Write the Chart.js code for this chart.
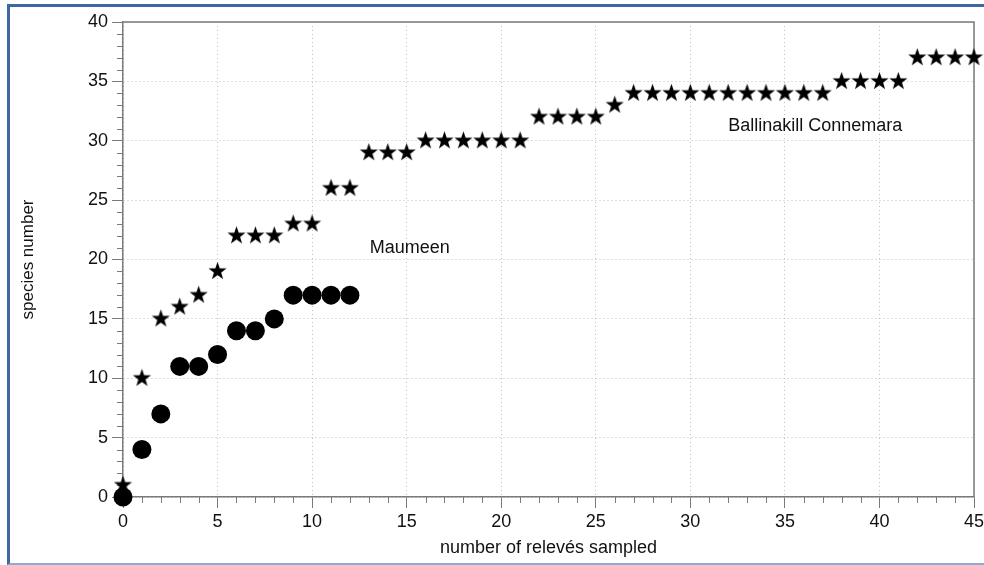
<!DOCTYPE html>
<html>
<head>
<meta charset="utf-8">
<title>Species accumulation</title>
<script src="https://cdn.jsdelivr.net/npm/chart.js@4.4.1/dist/chart.umd.min.js"></script>
<style>
html, body { margin: 0; padding: 0; background: #fff; }
#wrap { position: relative; width: 984px; height: 565px; overflow: hidden; }
#frame {
	position: absolute; left: 7px; top: 4px; right: -10px; bottom: 0;
	border-left: 3px solid #3f68a3;
	border-top: 3px solid #3f68a3;
	border-bottom: 2px solid #8eaad2;
}
#chart { position: absolute; left: 0; top: 0; }
</style>
</head>
<body>
<div id="wrap">
	<div id="frame"></div>
	<canvas id="chart" width="984" height="565"></canvas>
</div>
<script>
// number of relevés sampled (x) and cumulative species found (y)
var releves = [];
for (var i = 0; i <= 45; i++) releves.push(i);

var ballinakill = [1, 10, 15, 16, 17, 19, 22, 22, 22, 23, 23, 26, 26, 29, 29, 29,
	30, 30, 30, 30, 30, 30, 32, 32, 32, 32, 33, 34, 34, 34, 34, 34, 34, 34, 34, 34,
	34, 34, 35, 35, 35, 35, 37, 37, 37, 37];
var maumeen = [0, 4, 7, 11, 11, 12, 14, 14, 15, 17, 17, 17, 17];

var xTicks = [0, 5, 10, 15, 20, 25, 30, 35, 40, 45];
var yTicks = [0, 5, 10, 15, 20, 25, 30, 35, 40];

var siteLabels = [
	{ text: 'Maumeen', x: 13.05, y: 21 },
	{ text: 'Ballinakill Connemara', x: 32, y: 31.2 }
];

Chart.defaults.font.family = "'Liberation Sans', Arial, Helvetica, sans-serif";
Chart.defaults.color = '#111';

// filled five-pointed star used as the marker
function makeStar(R) {
	var c = document.createElement('canvas');
	var s = Math.ceil(R * 2 + 2);
	c.width = s; c.height = s;
	var g = c.getContext('2d');
	var r = R * 0.4;
	g.beginPath();
	for (var k = 0; k < 10; k++) {
		var rad = k % 2 ? r : R;
		var ang = -Math.PI / 2 + k * Math.PI / 5;
		var px = s / 2 + rad * Math.cos(ang);
		var py = s / 2 + rad * Math.sin(ang);
		if (k === 0) g.moveTo(px, py); else g.lineTo(px, py);
	}
	g.closePath();
	g.fillStyle = '#000';
	g.fill();
	return c;
}
var star = makeStar(9.5);

function points(ys) {
	var out = [];
	for (var i = 0; i < ys.length; i++) out.push({ x: releves[i], y: ys[i] });
	return out;
}

var axisColor = '#7a7a7a';

// minor ticks every unit plus the closing frame on top and right
var framePlugin = {
	id: 'frame',
	beforeDatasetsDraw: function(chart) {
		var ctx = chart.ctx, xs = chart.scales.x, ys = chart.scales.y, a = chart.chartArea;
		ctx.save();
		ctx.strokeStyle = axisColor;
		ctx.lineWidth = 1;
		ctx.beginPath();
		for (var v = 0; v <= 45; v++) {
			if (v % 5 === 0) continue;
			var px = Math.round(xs.getPixelForValue(v)) + 0.5;
			ctx.moveTo(px, a.bottom);
			ctx.lineTo(px, a.bottom + 6);
		}
		for (var w = 0; w <= 40; w++) {
			if (w % 5 === 0) continue;
			var py = Math.round(ys.getPixelForValue(w)) + 0.5;
			ctx.moveTo(a.left, py);
			ctx.lineTo(a.left - 6, py);
		}
		ctx.stroke();
		ctx.lineWidth = 1.5;
		ctx.beginPath();
		ctx.moveTo(a.left, a.top);
		ctx.lineTo(a.right, a.top);
		ctx.lineTo(a.right, a.bottom);
		ctx.stroke();
		ctx.restore();
	},
	afterDatasetsDraw: function(chart) {
		var ctx = chart.ctx, xs = chart.scales.x, ys = chart.scales.y;
		ctx.save();
		ctx.font = "18px 'Liberation Sans', Arial, sans-serif";
		ctx.fillStyle = '#111';
		ctx.textAlign = 'left';
		ctx.textBaseline = 'middle';
		siteLabels.forEach(function(l) {
			ctx.fillText(l.text, xs.getPixelForValue(l.x), ys.getPixelForValue(l.y));
		});
		ctx.restore();
	}
};

var ctx = document.getElementById('chart');

var chart = new Chart(ctx, {
	type: 'scatter',
	data: {
		datasets: [
			{
				label: 'Maumeen',
				data: points(maumeen),
				pointStyle: 'circle',
				pointRadius: 9.5,
				pointHoverRadius: 9.5,
				backgroundColor: '#000',
				borderColor: '#000',
				borderWidth: 0,
				clip: false
			},
			{
				label: 'Ballinakill Connemara',
				data: points(ballinakill),
				pointStyle: star,
				pointRadius: 9,
				backgroundColor: '#000',
				borderColor: '#000',
				clip: false
			}
		]
	},
	options: {
		responsive: false,
		animation: false,
		events: [],
		layout: { padding: { left: 0, top: 22, right: 9, bottom: 0 } },
		plugins: {
			legend: { display: false },
			tooltip: { enabled: false }
		},
		scales: {
			x: {
				type: 'linear',
				min: 0,
				max: 45,
				afterBuildTicks: function(s) { s.ticks = xTicks.map(function(v) { return { value: v }; }); },
				afterFit: function(s) { s.height = 68; s.paddingLeft = 0; s.paddingRight = 0; },
				ticks: { font: { size: 18 }, color: '#111', padding: 3, maxRotation: 0 },
				grid: {
					color: '#bcbcbc',
					lineWidth: 1,
					borderDash: [1, 3],
					tickColor: axisColor,
					tickLength: 11,
					tickWidth: 1
				},
				border: { display: true, color: axisColor, width: 1.5, dash: [1, 3] },
				title: {
					display: true,
					text: 'number of relevés sampled',
					font: { size: 18 },
					color: '#111',
					padding: { top: 0, bottom: 6 }
				}
			},
			y: {
				type: 'linear',
				min: 0,
				max: 40,
				afterBuildTicks: function(s) { s.ticks = yTicks.map(function(v) { return { value: v }; }); },
				afterFit: function(s) { s.width = 123; s.paddingTop = 0; s.paddingBottom = 0; },
				ticks: { font: { size: 18 }, color: '#111', padding: 4 },
				grid: {
					color: '#bcbcbc',
					lineWidth: 1,
					borderDash: [1, 3],
					tickColor: axisColor,
					tickLength: 11,
					tickWidth: 1
				},
				border: { display: true, color: axisColor, width: 1.5, dash: [1, 3] },
				title: {
					display: true,
					text: 'species number',
					font: { size: 17 },
					color: '#111',
					padding: { top: 18, bottom: 0 }
				}
			}
		}
	},
	plugins: [framePlugin]
});
</script>
</body>
</html>
